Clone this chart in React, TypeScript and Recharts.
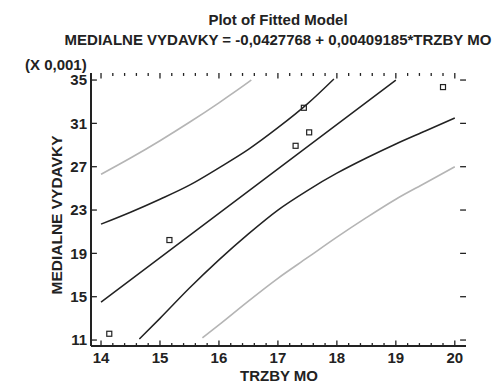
import React from 'react';
import { ComposedChart, Line, Scatter, XAxis, YAxis, ReferenceLine } from 'recharts';

// ---- data (y values in units of 0.001) ----
const xTicks = [14, 15, 16, 17, 18, 19, 20];
const xMinorTicks = [14.2, 14.4, 14.6, 14.8, 15.2, 15.4, 15.6, 15.8, 16.2, 16.4, 16.6, 16.8, 17.2, 17.4, 17.6, 17.8, 18.2, 18.4, 18.6, 18.8, 19.2, 19.4, 19.6, 19.8];
const yTicks = [11, 15, 19, 23, 27, 31, 35];

const observedX = [14.14, 15.16, 17.3, 17.44, 17.53, 19.8];
const observedY = [11.58, 20.23, 28.93, 32.44, 30.17, 34.35];

const fitX = [14, 16.5, 19.0];
const fitY = [14.5, 24.75, 35.0];

const upperConfX = [14, 14.5, 15, 15.5, 16, 16.5, 17, 17.5, 17.95];
const upperConfY = [21.7, 22.8, 24.0, 25.3, 26.9, 28.6, 30.6, 32.8, 35.1];

const lowerConfX = [14.65, 15, 15.5, 16, 16.5, 17, 17.5, 18, 18.5, 19, 19.5, 20];
const lowerConfY = [11.1, 13.0, 15.8, 18.4, 20.8, 23.0, 24.8, 26.4, 27.8, 29.1, 30.3, 31.5];

const upperPredX = [14, 14.5, 15, 15.5, 16, 16.5, 16.55];
const upperPredY = [26.3, 27.8, 29.4, 31.1, 32.9, 34.8, 35.0];

const lowerPredX = [15.72, 16, 16.5, 17, 17.5, 18, 18.5, 19, 19.5, 20];
const lowerPredY = [11.2, 12.4, 14.6, 16.7, 18.6, 20.5, 22.3, 24.0, 25.5, 27.0];

const X_DOMAIN: [number, number] = [13.83, 20.19];
const Y_DOMAIN: [number, number] = [10.45, 35.65];

const toPts = (xs: number[], ys: number[]) => xs.map((x, i) => ({ x, y: ys[i] }));

const FONT = '"Liberation Sans", Arial, sans-serif';
const INK = '#222';
const GRAY = '#b5b5b5';

const SquareShape = (props: any) => {
  const { cx, cy } = props;
  if (cx == null || cy == null) return null;
  return <rect x={cx - 2.5} y={cy - 2.5} width={5} height={5} fill="none" stroke={INK} strokeWidth={1.2} />;
};

export default function App() {
  const tickStyle = { fontFamily: FONT, fontSize: 15, fontWeight: 700, fill: INK };
  const axisLine = { stroke: INK, strokeWidth: 2 };
  const [x0, x1] = X_DOMAIN;
  const [y0, y1] = Y_DOMAIN;
  const tickProps = { xAxisId: 'b', yAxisId: 'l', stroke: INK, strokeWidth: 1.3, ifOverflow: 'visible' as const };

  return (
    <div style={{ position: 'absolute', left: 0, top: 0, width: 495, height: 385, background: '#fff' }}>
      <ComposedChart width={495} height={385} margin={{ top: 73, right: 29, bottom: 0, left: 0 }}>
        <XAxis xAxisId="b" type="number" dataKey="x" domain={X_DOMAIN} ticks={xTicks} allowDataOverflow
          orientation="bottom" height={39} tickLine={false} tickSize={0} tickMargin={6}
          axisLine={axisLine} tick={tickStyle} interval={0} />
        <XAxis xAxisId="t" type="number" dataKey="x" domain={X_DOMAIN} allowDataOverflow
          orientation="top" height={0} tick={false} tickLine={false} axisLine={axisLine} />
        <YAxis yAxisId="l" type="number" domain={Y_DOMAIN} ticks={yTicks} allowDataOverflow
          width={91} tickLine={false} tickSize={0} tickMargin={4} axisLine={axisLine} tick={tickStyle} interval={0} />
        <YAxis yAxisId="r" type="number" orientation="right" domain={Y_DOMAIN} allowDataOverflow
          width={0} tick={false} tickLine={false} axisLine={axisLine} />

        {xTicks.map((t) => (
          <ReferenceLine key={'bM' + t} {...tickProps} segment={[{ x: t, y: y0 }, { x: t, y: y0 + 0.5 }]} />
        ))}
        {xMinorTicks.map((t) => (
          <ReferenceLine key={'bm' + t} {...tickProps} segment={[{ x: t, y: y0 }, { x: t, y: y0 + 0.27 }]} />
        ))}
        {xTicks.map((t) => (
          <ReferenceLine key={'tM' + t} {...tickProps} segment={[{ x: t, y: y1 }, { x: t, y: y1 - 0.5 }]} />
        ))}
        {xMinorTicks.map((t) => (
          <ReferenceLine key={'tm' + t} {...tickProps} segment={[{ x: t, y: y1 }, { x: t, y: y1 - 0.27 }]} />
        ))}
        {yTicks.map((t) => (
          <ReferenceLine key={'lM' + t} {...tickProps} segment={[{ x: x0, y: t }, { x: x0 + 0.1, y: t }]} />
        ))}
        {yTicks.map((t) => (
          <ReferenceLine key={'rM' + t} {...tickProps} segment={[{ x: x1, y: t }, { x: x1 - 0.1, y: t }]} />
        ))}

        <Line xAxisId="b" yAxisId="l" data={toPts(upperPredX, upperPredY)} dataKey="y" type="monotone"
          stroke={GRAY} strokeWidth={1.6} dot={false} isAnimationActive={false} />
        <Line xAxisId="b" yAxisId="l" data={toPts(lowerPredX, lowerPredY)} dataKey="y" type="monotone"
          stroke={GRAY} strokeWidth={1.6} dot={false} isAnimationActive={false} />
        <Line xAxisId="b" yAxisId="l" data={toPts(upperConfX, upperConfY)} dataKey="y" type="monotone"
          stroke={INK} strokeWidth={1.5} dot={false} isAnimationActive={false} />
        <Line xAxisId="b" yAxisId="l" data={toPts(lowerConfX, lowerConfY)} dataKey="y" type="monotone"
          stroke={INK} strokeWidth={1.5} dot={false} isAnimationActive={false} />
        <Line xAxisId="b" yAxisId="l" data={toPts(fitX, fitY)} dataKey="y" type="linear"
          stroke={INK} strokeWidth={1.5} dot={false} isAnimationActive={false} />
        <Scatter xAxisId="b" yAxisId="l" data={toPts(observedX, observedY)} dataKey="y"
          shape={SquareShape} isAnimationActive={false} />
      </ComposedChart>

      <svg width={495} height={385} style={{ position: 'absolute', left: 0, top: 0, pointerEvents: 'none' }}>
        <g fontFamily={FONT} fontWeight={700} fill={INK}>
          <text x={278} y={25} fontSize={15} textAnchor="middle">Plot of Fitted Model</text>
          <text x={278} y={45} fontSize={15} textAnchor="middle">MEDIALNE VYDAVKY = -0,0427768 + 0,00409185*TRZBY MO</text>
          <text x={25} y={70} fontSize={15} textAnchor="start">(X 0,001)</text>
          <text x={62} y={215} fontSize={15.5} textAnchor="middle" transform="rotate(-90 62 215)">MEDIALNE VYDAVKY</text>
          <text x={279} y={381} fontSize={15} textAnchor="middle">TRZBY MO</text>
        </g>
      </svg>
    </div>
  );
}
